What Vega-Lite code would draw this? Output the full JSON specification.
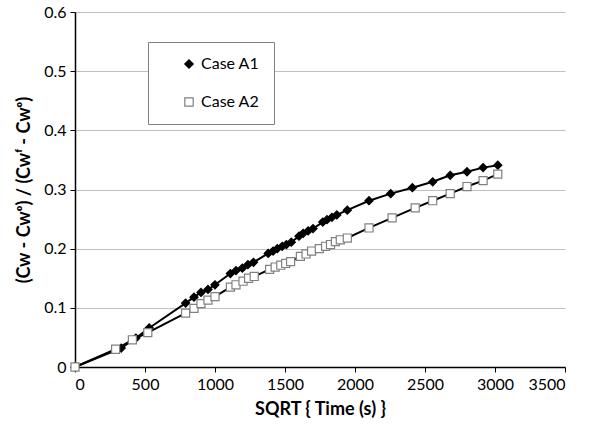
{
  "$schema": "https://vega.github.io/schema/vega-lite/v6.json",
  "width": 490,
  "height": 355,
  "autosize": {"type": "none"},
  "padding": {"left": 75, "top": 12, "right": 43, "bottom": 62},
  "background": "white",
  "config": {
    "font": "Lato",
    "view": {"stroke": null},
    "axis": {
      "labelFont": "Lato", "labelFontSize": 16, "labelColor": "#000000",
      "titleFont": "Lato", "titleFontSize": 18, "titleFontWeight": "bold", "titleColor": "#000000",
      "domainColor": "#000000", "domainWidth": 1.5, "tickColor": "#000000", "tickSize": 5
    }
  },
  "datasets": {
    "pts": [
      {"series": "Case A1", "t": 0, "c": 0},
      {"series": "Case A1", "t": 330, "c": 0.032},
      {"series": "Case A1", "t": 435, "c": 0.049},
      {"series": "Case A1", "t": 530, "c": 0.066},
      {"series": "Case A1", "t": 790, "c": 0.108},
      {"series": "Case A1", "t": 850, "c": 0.118},
      {"series": "Case A1", "t": 900, "c": 0.126},
      {"series": "Case A1", "t": 950, "c": 0.131},
      {"series": "Case A1", "t": 1000, "c": 0.139},
      {"series": "Case A1", "t": 1110, "c": 0.158},
      {"series": "Case A1", "t": 1150, "c": 0.163},
      {"series": "Case A1", "t": 1195, "c": 0.167},
      {"series": "Case A1", "t": 1235, "c": 0.173},
      {"series": "Case A1", "t": 1275, "c": 0.177},
      {"series": "Case A1", "t": 1380, "c": 0.192},
      {"series": "Case A1", "t": 1415, "c": 0.196},
      {"series": "Case A1", "t": 1445, "c": 0.200},
      {"series": "Case A1", "t": 1480, "c": 0.204},
      {"series": "Case A1", "t": 1510, "c": 0.207},
      {"series": "Case A1", "t": 1545, "c": 0.211},
      {"series": "Case A1", "t": 1600, "c": 0.221},
      {"series": "Case A1", "t": 1630, "c": 0.226},
      {"series": "Case A1", "t": 1665, "c": 0.230},
      {"series": "Case A1", "t": 1700, "c": 0.234},
      {"series": "Case A1", "t": 1770, "c": 0.245},
      {"series": "Case A1", "t": 1800, "c": 0.249},
      {"series": "Case A1", "t": 1835, "c": 0.253},
      {"series": "Case A1", "t": 1870, "c": 0.257},
      {"series": "Case A1", "t": 1945, "c": 0.265},
      {"series": "Case A1", "t": 2100, "c": 0.281},
      {"series": "Case A1", "t": 2255, "c": 0.293},
      {"series": "Case A1", "t": 2410, "c": 0.303},
      {"series": "Case A1", "t": 2555, "c": 0.313},
      {"series": "Case A1", "t": 2680, "c": 0.324},
      {"series": "Case A1", "t": 2800, "c": 0.330},
      {"series": "Case A1", "t": 2915, "c": 0.337},
      {"series": "Case A1", "t": 3020, "c": 0.341},
      {"series": "Case A2", "t": 0, "c": 0},
      {"series": "Case A2", "t": 290, "c": 0.030},
      {"series": "Case A2", "t": 410, "c": 0.046},
      {"series": "Case A2", "t": 520, "c": 0.058},
      {"series": "Case A2", "t": 790, "c": 0.091},
      {"series": "Case A2", "t": 850, "c": 0.099},
      {"series": "Case A2", "t": 900, "c": 0.107},
      {"series": "Case A2", "t": 950, "c": 0.113},
      {"series": "Case A2", "t": 1000, "c": 0.119},
      {"series": "Case A2", "t": 1110, "c": 0.135},
      {"series": "Case A2", "t": 1150, "c": 0.139},
      {"series": "Case A2", "t": 1200, "c": 0.145},
      {"series": "Case A2", "t": 1240, "c": 0.150},
      {"series": "Case A2", "t": 1280, "c": 0.153},
      {"series": "Case A2", "t": 1390, "c": 0.165},
      {"series": "Case A2", "t": 1430, "c": 0.169},
      {"series": "Case A2", "t": 1470, "c": 0.172},
      {"series": "Case A2", "t": 1505, "c": 0.175},
      {"series": "Case A2", "t": 1540, "c": 0.178},
      {"series": "Case A2", "t": 1610, "c": 0.187},
      {"series": "Case A2", "t": 1650, "c": 0.191},
      {"series": "Case A2", "t": 1690, "c": 0.196},
      {"series": "Case A2", "t": 1745, "c": 0.200},
      {"series": "Case A2", "t": 1790, "c": 0.204},
      {"series": "Case A2", "t": 1825, "c": 0.207},
      {"series": "Case A2", "t": 1860, "c": 0.212},
      {"series": "Case A2", "t": 1895, "c": 0.215},
      {"series": "Case A2", "t": 1945, "c": 0.218},
      {"series": "Case A2", "t": 2100, "c": 0.235},
      {"series": "Case A2", "t": 2265, "c": 0.252},
      {"series": "Case A2", "t": 2430, "c": 0.269},
      {"series": "Case A2", "t": 2555, "c": 0.281},
      {"series": "Case A2", "t": 2680, "c": 0.293},
      {"series": "Case A2", "t": 2800, "c": 0.305},
      {"series": "Case A2", "t": 2915, "c": 0.315},
      {"series": "Case A2", "t": 3020, "c": 0.326}
    ]
  },
  "data": {"name": "pts"},
  "encoding": {
    "x": {
      "field": "t", "type": "quantitative",
      "scale": {"domain": [0, 3500], "nice": false},
      "axis": {"values": [0, 500, 1000, 1500, 2000, 2500, 3000, 3500], "format": "d", "grid": false, "title": "SQRT { Time (s) }", "titlePadding": 8, "labelPadding": 4}
    },
    "y": {
      "field": "c", "type": "quantitative",
      "scale": {"domain": [0, 0.6], "nice": false},
      "axis": {"values": [0, 0.1, 0.2, 0.3, 0.4, 0.5, 0.6], "format": ".1~f", "grid": true, "gridColor": "#bfbfbf", "gridWidth": 1.2, "title": "(Cw - Cwᵒ) / (Cwᶠ - Cwᵒ)", "titlePadding": 10, "labelPadding": 4}
    }
  },
  "layer": [
    {
      "mark": {"type": "line", "color": "#000000", "strokeWidth": 2},
      "encoding": {"detail": {"field": "series"}}
    },
    {
      "mark": {"type": "point", "filled": false, "opacity": 1, "strokeWidth": 1.2, "size": 65},
      "encoding": {
        "shape": {"field": "series", "type": "nominal", "scale": {"domain": ["Case A1", "Case A2"], "range": ["diamond", "square"]},
          "legend": {"title": null, "orient": "none", "legendX": 73, "legendY": 30, "strokeColor": "#808080", "fillColor": "white", "padding": 14, "rowPadding": 22, "symbolOffset": 19, "labelFontSize": 16, "labelFont": "Lato", "labelColor": "#000000", "symbolSize": 70, "symbolStrokeWidth": 1.2, "labelOffset": 4, "labelExpr": "datum.label + '\u00a0\u00a0'"}},
        "fill": {"field": "series", "type": "nominal", "scale": {"domain": ["Case A1", "Case A2"], "range": ["#000000", "#ffffff"]}, "legend": {"title": null}},
        "stroke": {"field": "series", "type": "nominal", "scale": {"domain": ["Case A1", "Case A2"], "range": ["#000000", "#808080"]}, "legend": {"title": null}}
      }
    }
  ]
}
